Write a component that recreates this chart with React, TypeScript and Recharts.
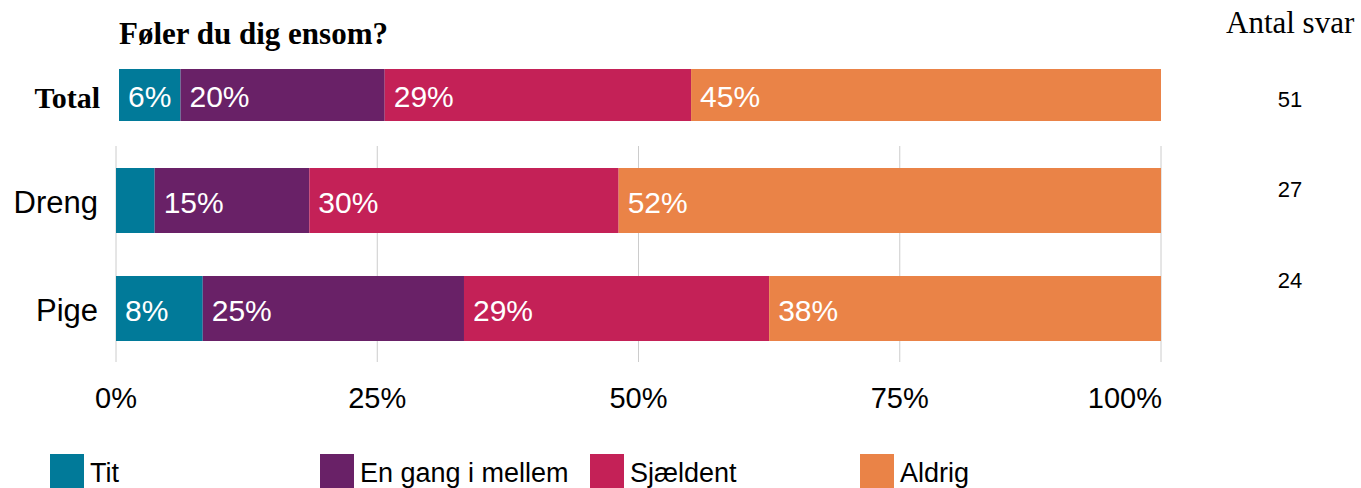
import React from 'react';
import { BarChart, Bar, XAxis, YAxis, CartesianGrid, LabelList } from 'recharts';

const groups = ['Total', 'Dreng', 'Pige'];
const titValues = [5.9, 3.7, 8.3];
const enGangValues = [19.6, 14.8, 25.0];
const sjaeldentValues = [29.4, 29.6, 29.2];
const aldrigValues = [45.1, 51.9, 37.5];
const antalSvar = [51, 27, 24];
const xTicks = [0, 25, 50, 75, 100];

const series = [
  { key: 'tit', name: 'Tit', color: '#017a99' },
  { key: 'enGang', name: 'En gang i mellem', color: '#692167' },
  { key: 'sjaeldent', name: 'Sjældent', color: '#c42157' },
  { key: 'aldrig', name: 'Aldrig', color: '#ea8347' },
];

const rows = groups.map((name, i) => ({
  name,
  tit: titValues[i],
  enGang: enGangValues[i],
  sjaeldent: sjaeldentValues[i],
  aldrig: aldrigValues[i],
}));

const SANS = '"Liberation Sans", Arial, sans-serif';
const SERIF = '"Liberation Serif", "Times New Roman", serif';

const SegmentLabel = (props: any) => {
  const { x, y, height, value } = props;
  if (value == null || value < 5) return null;
  return (
    <text x={x + 9} y={y + height / 2 + 12} fill="#fff" fontSize={30} fontFamily={SANS}>
      {`${Math.round(value)}%`}
    </text>
  );
};

const TotalTick = (props: any) => (
  <text x={props.x - 19} y={props.y + 13} textAnchor="end" fontSize={30} fontWeight="bold" fontFamily={SERIF} fill="#000">
    {props.payload.value}
  </text>
);

const GroupTick = (props: any) => (
  <text x={props.x - 18} y={props.y + 13} textAnchor="end" fontSize={31} fontFamily={SANS} fill="#000">
    {props.payload.value}
  </text>
);

// the last tick is kept inside the plot, ending at the 100% line
const PctTick = (props: any) => {
  const last = props.payload.value === 100;
  return (
    <text
      x={last ? props.x + 1 : props.x}
      y={props.y + 46}
      textAnchor={last ? 'end' : 'middle'}
      fontSize={29}
      fontFamily={SANS}
      fill="#000"
    >
      {`${props.payload.value}%`}
    </text>
  );
};

const bars = () =>
  series.map((s) => (
    <Bar key={s.key} dataKey={s.key} name={s.name} stackId="a" fill={s.color} isAnimationActive={false}>
      <LabelList dataKey={s.key} content={<SegmentLabel />} />
    </Bar>
  ));

const countY = [107, 197, 288];

export default function App() {
  return (
    <div style={{ position: 'absolute', left: 0, top: 0, width: 1361, height: 488, background: '#fff', overflow: 'hidden' }}>
      <div style={{ position: 'absolute', left: 0, top: 69 }}>
        <BarChart
          width={1361}
          height={52}
          data={rows.slice(0, 1)}
          layout="vertical"
          barCategoryGap={0}
          margin={{ top: 0, right: 200, left: 0, bottom: 0 }}
        >
          <XAxis type="number" domain={[0, 100]} hide />
          <YAxis type="category" dataKey="name" width={119} axisLine={false} tickLine={false} tickSize={0} tickMargin={0} tick={<TotalTick />} />
          {bars()}
        </BarChart>
      </div>

      <div style={{ position: 'absolute', left: 0, top: 146 }}>
        <BarChart
          width={1361}
          height={276}
          data={rows.slice(1)}
          layout="vertical"
          barSize={65}
          margin={{ top: 0, right: 200, left: 0, bottom: 0 }}
        >
          <CartesianGrid horizontal={false} stroke="#cccccc" />
          <XAxis
            type="number"
            domain={[0, 100]}
            ticks={xTicks}
            height={60}
            axisLine={false}
            tickLine={false}
            tickSize={0}
            tickMargin={0}
            tick={<PctTick />}
          />
          <YAxis type="category" dataKey="name" width={116} axisLine={false} tickLine={false} tickSize={0} tickMargin={0} tick={<GroupTick />} />
          {bars()}
        </BarChart>
      </div>

      <svg width={1361} height={488} style={{ position: 'absolute', left: 0, top: 0, pointerEvents: 'none' }}>
        <text x={119} y={44} fontSize={31} fontWeight="bold" fontFamily={SERIF} fill="#000">
          Føler du dig ensom?
        </text>
        <text x={1226} y={33} fontSize={31} fontFamily={SERIF} fill="#000">
          Antal svar
        </text>
        {antalSvar.map((n, i) => (
          <text key={groups[i]} x={1290} y={countY[i]} textAnchor="middle" fontSize={22} fontFamily={SANS} fill="#000">
            {n}
          </text>
        ))}
        {series.map((s, i) => (
          <g key={s.key}>
            <rect x={50 + i * 270} y={454} width={34} height={34} fill={s.color} />
            <text x={90 + i * 270} y={482} fontSize={27} fontFamily={SANS} fill="#000">
              {s.name}
            </text>
          </g>
        ))}
      </svg>
    </div>
  );
}
